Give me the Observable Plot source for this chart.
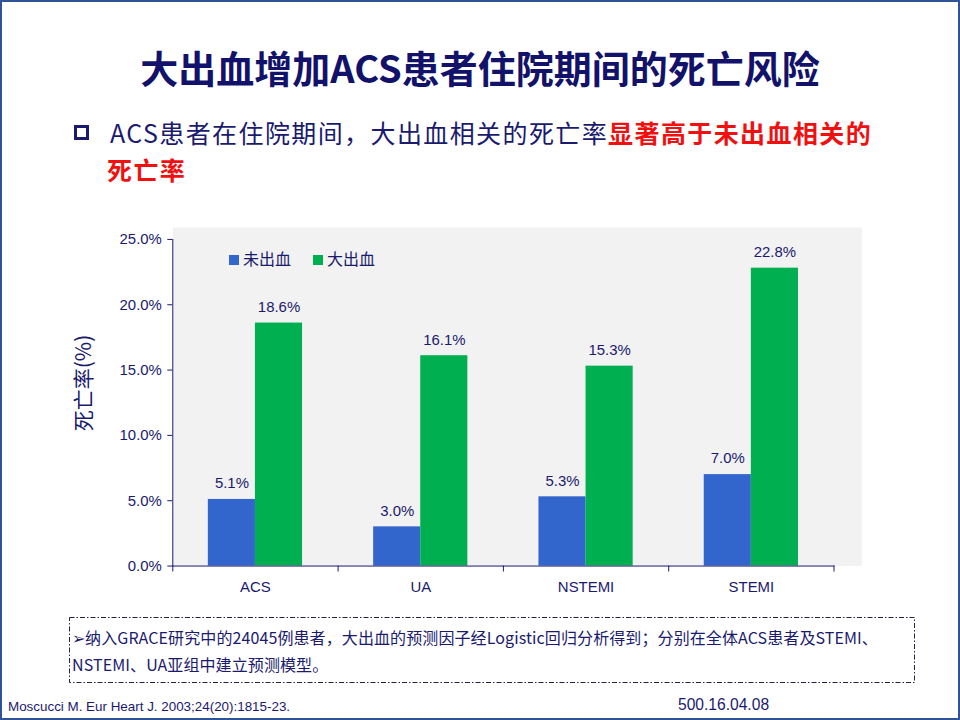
<!DOCTYPE html>
<html>
<head>
<meta charset="utf-8">
<script src="https://cdn.jsdelivr.net/npm/d3@7"></script>
<script src="https://cdn.jsdelivr.net/npm/@observablehq/plot@0.6"></script>
<style>
  html, body { margin: 0; padding: 0; background: #fff; }
  #page { position: relative; width: 960px; height: 720px; box-sizing: border-box; border: 2px solid #2e5496; overflow: hidden; font-family: "Noto Sans CJK SC", "Liberation Sans", sans-serif; }
  .abs { position: absolute; white-space: nowrap; }
  #title { left: 0; width: 956px; top: 41px; text-align: center; font-size: 38px; font-weight: 700; color: #12126b; line-height: 48px; letter-spacing: 0px; }
  #bullet { left: 105px; top: 112px; font-size: 25px; line-height: 36.5px; color: #1a1a6e; letter-spacing: 1.4px; }
  .red { color: #f01010; font-weight: 700; }
  .box { position: absolute; left: -33px; top: 11px; width: 9px; height: 9px; border: 3px solid #1a1a6e; }
  .sp { display: inline-block; width: 3px; }
  #chart { left: 0; top: 220px; }
  #ylab { left: 80px; top: 381px; transform: translate(-50%, -50%) rotate(-90deg); font-size: 21px; color: #1a1a6e; }
  #legend { left: 227px; top: 245px; font-size: 16px; color: #1a1a6e; line-height: 22px; }
  .sw { display: inline-block; width: 10px; height: 10px; margin-right: 4px; vertical-align: 0px; }
  #note { left: 70px; top: 622px; font-size: 16px; line-height: 27px; color: #1a1a6e; letter-spacing: 0.1px; }
  #ref { left: 6px; top: 697px; font-family: "Liberation Sans Narrow", "Liberation Sans", Arial, sans-serif; font-size: 13.4px; color: #1a1a6e; }
  #code { left: 676px; top: 694px; font-family: "Liberation Sans", Arial, sans-serif; font-size: 15.6px; color: #1a1a6e; }
</style>
</head>
<body>
<div id="page">
  <div id="title" class="abs">大出血增加ACS患者住院期间的死亡风险</div>
  <div id="bullet" class="abs"><span class="box"></span><span class="sp"></span>ACS患者在住院期间，大出血相关的死亡率<span class="red">显著高于未出血相关的<br>死亡率</span></div>
  <div id="chart" class="abs"></div>
  <div id="ylab" class="abs">死亡率(%)</div>
  <div id="legend" class="abs"></div>
  <svg class="abs" style="left:0;top:0" width="960" height="720">
    <rect x="67.5" y="615.5" width="845" height="65" fill="none" stroke="#222244" stroke-width="1" stroke-dasharray="5,2,1.5,2"></rect>
  </svg>
  <div id="note" class="abs">➢纳入GRACE研究中的24045例患者，大出血的预测因子经Logistic回归分析得到；分别在全体ACS患者及STEMI、<br>NSTEMI、UA亚组中建立预测模型。</div>
  <div id="ref" class="abs">Moscucci M. Eur Heart J. 2003;24(20):1815-23.</div>
  <div id="code" class="abs">500.16.04.08</div>
</div>
<script>
const categories = ["ACS", "UA", "NSTEMI", "STEMI"];
const seriesNames = ["未出血", "大出血"];
const noBleeding = [5.1, 3.0, 5.3, 7.0];
const majorBleeding = [18.6, 16.1, 15.3, 22.8];
const yTicks = [0, 5, 10, 15, 20, 25];
const colors = ["#3366cc", "#00b050"];

const navy = "#1a1a6e";
const fmt = d => d.toFixed(1) + "%";

const blueData = categories.map((c, i) => ({cat: c, series: seriesNames[0], value: noBleeding[i]}));
const greenData = categories.map((c, i) => ({cat: c, series: seriesNames[1], value: majorBleeding[i]}));

const W = 960, H = 380;
const mL = 171, mR = 125, mT = 17, mB = 35;
const band = (W - mL - mR) / categories.length;
const barW = band * 0.285;
const half = barW / 2;
const outer = band / 2 - barW;

const chart = Plot.plot({
  width: W,
  height: H,
  marginLeft: mL,
  marginRight: mR,
  marginTop: mT,
  marginBottom: mB,
  style: {fontFamily: "'Liberation Sans', Arial, sans-serif", color: navy, background: "transparent"},
  x: {domain: categories, padding: 0, axis: null},
  y: {domain: [0, 25], axis: null},
  marks: [
    Plot.frame({fill: "#f2f2f2", stroke: null, insetTop: -12, insetRight: -28}),
    Plot.barY(blueData, {x: "cat", y: "value", fill: colors[0], insetLeft: outer, insetRight: band - outer - barW}),
    Plot.barY(greenData, {x: "cat", y: "value", fill: colors[1], insetLeft: band - outer - barW, insetRight: outer}),
    Plot.text(blueData, {x: "cat", y: "value", text: d => fmt(d.value), dx: -half, dy: -16, fontSize: 15, fill: navy}),
    Plot.text(greenData, {x: "cat", y: "value", text: d => fmt(d.value), dx: half, dy: -16, fontSize: 15, fill: navy}),
    Plot.axisY({ticks: yTicks, tickFormat: fmt, tickSize: 5, tickPadding: 6, fontSize: 15, stroke: navy, fill: navy, label: null}),
    Plot.axisX({tickSize: 0, tickPadding: 15, fontSize: 15, fill: navy, label: null}),
    Plot.frame({anchor: "left", stroke: navy}),
    Plot.frame({anchor: "bottom", stroke: navy}),
    Plot.ruleX(categories, {x: d => d, y1: 0, y2: 0, dx: -band / 2, insetBottom: -6, stroke: navy}),
    Plot.ruleX(categories.slice(-1), {x: d => d, y1: 0, y2: 0, dx: band / 2, insetBottom: -6, stroke: navy})
  ]
});
document.getElementById("chart").appendChild(chart);

const legend = document.getElementById("legend");
legend.innerHTML = seriesNames.map((s, i) =>
  `<span style="margin-right:${i === 0 ? 22 : 0}px"><span class="sw" style="background:${colors[i]}"></span>${s}</span>`
).join("");
</script>
</body>
</html>
